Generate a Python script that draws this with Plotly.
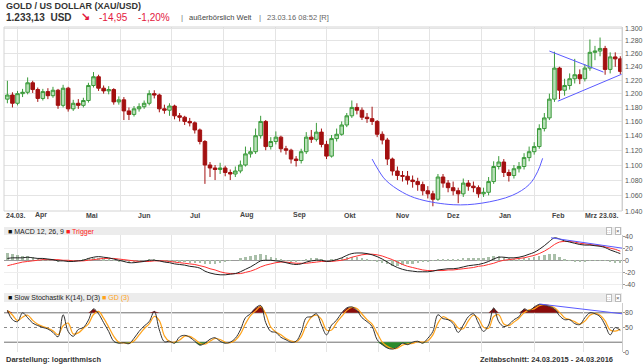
import math
import pandas as pd
import plotly.graph_objects as go

# ---------------- data ----------------
dates = pd.date_range(end="2016-03-23", periods=122, freq="3D")

close = [1198, 1186, 1200, 1202, 1216, 1206, 1193, 1203, 1197, 1205,
         1183, 1208, 1178, 1186, 1183, 1190, 1212, 1225, 1208, 1204,
         1206, 1188, 1191, 1175, 1170, 1178, 1181, 1186, 1200, 1198,
         1178, 1176, 1182, 1168, 1166, 1160, 1158, 1148, 1132, 1100,
         1096, 1094, 1096, 1090, 1088, 1092, 1100, 1115, 1118, 1140,
         1160, 1125, 1132, 1138, 1122, 1120, 1108, 1106, 1118, 1138,
         1135, 1145, 1128, 1112, 1136, 1142, 1155, 1168, 1180, 1176,
         1166, 1164, 1160, 1142, 1134, 1108, 1092, 1086, 1085, 1080,
         1078, 1074, 1066, 1062, 1055, 1084, 1076, 1070, 1066, 1062,
         1076, 1072, 1070, 1062, 1064, 1078, 1098, 1104, 1090, 1086,
         1095, 1098, 1110, 1118, 1125, 1150, 1165, 1192, 1238, 1205,
         1212, 1222, 1228, 1222, 1238, 1262, 1264, 1268, 1236, 1255,
         1252, 1233]
high = [1219, 1202, 1204, 1207, 1224, 1219, 1209, 1207, 1208, 1210,
        1207, 1213, 1210, 1191, 1192, 1194, 1216, 1232, 1228, 1212,
        1211, 1208, 1196, 1195, 1180, 1182, 1186, 1190, 1205, 1205,
        1200, 1184, 1186, 1184, 1172, 1168, 1165, 1160, 1150, 1134,
        1104, 1100, 1103, 1099, 1094, 1098, 1106, 1125, 1124, 1150,
        1168, 1162, 1138, 1146, 1140, 1126, 1122, 1112, 1122, 1145,
        1148, 1158, 1150, 1133, 1141, 1150, 1160, 1172, 1190, 1186,
        1180, 1172, 1181, 1162, 1146, 1137, 1110, 1098, 1092, 1092,
        1086, 1083, 1078, 1072, 1066, 1088, 1088, 1080, 1078, 1070,
        1082, 1080, 1078, 1073, 1070, 1084, 1105, 1112, 1108, 1094,
        1100, 1104, 1116, 1125, 1131, 1156, 1172, 1200, 1263, 1240,
        1222, 1230, 1252, 1236, 1244, 1282, 1272, 1285, 1272, 1262,
        1262, 1256]
low = [1186, 1180, 1183, 1195, 1199, 1201, 1188, 1190, 1192, 1194,
       1178, 1180, 1174, 1175, 1178, 1180, 1187, 1209, 1204, 1200,
       1199, 1184, 1184, 1162, 1162, 1167, 1174, 1178, 1183, 1193,
       1173, 1171, 1168, 1163, 1160, 1155, 1153, 1143, 1128, 1075,
       1084, 1080, 1088, 1085, 1080, 1084, 1089, 1098, 1110, 1115,
       1136, 1120, 1121, 1128, 1117, 1114, 1102, 1098, 1102, 1115,
       1130, 1132, 1124, 1108, 1110, 1132, 1140, 1152, 1165, 1170,
       1162, 1158, 1155, 1138, 1128, 1100, 1086, 1080, 1078, 1074,
       1070, 1066, 1060, 1056, 1046, 1053, 1070, 1064, 1060, 1050,
       1058, 1066, 1064, 1057, 1058, 1060, 1075, 1094, 1084, 1078,
       1082, 1090, 1094, 1105, 1114, 1122, 1146, 1162, 1188, 1192,
       1197, 1206, 1215, 1214, 1218, 1234, 1250, 1256, 1228, 1230,
       1240, 1229]
first_open = 1192
open_ = [first_open] + close[:-1]   # each candle opens where the previous closed

macd = [3, 4, 4, 4, 5, 4, 3, 3, 2, 1, -1, -1, -2, -2, -1, 0, 3, 5, 6, 5,
        4, 2, 0, -2, -4, -4, -3, -2, 0, 0, -1, -3, -4, -6, -7, -8, -10, -11, -13, -18,
        -21, -23, -24, -24, -23, -22, -19, -15, -11, -6, -1, 0, 0, -1, -2, -4, -6, -7, -6, -3,
        -1, 0, 0, -2, -1, 1, 4, 8, 11, 12, 12, 11, 9, 6, 2, -3, -8, -12, -15, -17,
        -18, -19, -19, -19, -18, -16, -15, -14, -14, -13, -11, -9, -8, -7, -5, -2, 2, 5, 5, 4,
        4, 5, 7, 10, 13, 18, 24, 31, 37, 35, 32, 30, 28, 26, 25, 25, 24, 23, 21, 17,
        14, 11]
signal = [-9, -7, -5, -3, -2, -1, 0, 1, 1, 1, 1, 0, 0, -1, -1, -1, 0, 1, 2, 3,
          3, 3, 2, 1, 0, -1, -2, -2, -2, -1, -1, -1, -2, -3, -4, -5, -6, -7, -9, -11,
          -14, -16, -19, -21, -22, -22, -22, -20, -18, -15, -11, -8, -6, -4, -3, -3, -4, -5, -5, -5,
          -4, -3, -2, -2, -2, -1, 0, 2, 5, 7, 9, 10, 10, 9, 7, 4, 1, -3, -7, -10,
          -12, -14, -16, -17, -17, -17, -17, -16, -16, -15, -14, -13, -12, -10, -9, -7, -5, -2, 0, 1,
          2, 3, 4, 6, 8, 11, 15, 20, 26, 30, 31, 31, 30, 28, 27, 26, 25, 24, 22, 20,
          18, 15]
stoch_k = [85, 66, 62, 80, 70, 59, 54, 50, 47, 40, 31, 76, 42, 32, 46, 50, 65, 88, 78, 60,
           42, 22, 18, 19, 17, 28, 42, 53, 62, 83, 45, 21, 22, 18, 31, 34, 30, 22, 14, 18,
           26, 29, 22, 18, 20, 28, 45, 70, 78, 90, 95, 60, 42, 40, 30, 25, 20, 22, 40, 70,
           72, 78, 55, 35, 55, 65, 80, 90, 92, 85, 70, 62, 52, 25, 15, 8, 6, 10, 18, 15,
           20, 22, 18, 28, 42, 76, 68, 66, 58, 40, 55, 72, 78, 59, 42, 55, 90, 62, 52, 56,
           66, 72, 88, 84, 92, 97, 96, 93, 88, 74, 66, 66, 58, 56, 70, 80, 78, 72, 55, 35,
           50, 44]

month_starts = pd.date_range("2015-04-01", "2016-03-01", freq="MS")
month_labels = ["Apr", "Mai", "Jun", "Jul", "Aug", "Sep", "Okt", "Nov", "Dez", "Jan", "Feb"]
month_label_dates = pd.date_range("2015-04-01", "2016-02-01", freq="MS") + pd.Timedelta(days=14)
start_label = "24.03."
end_label = "Mrz 23.03."
price_ticks = [1040, 1060, 1080, 1100, 1120, 1140, 1160, 1180, 1200, 1220, 1240, 1260, 1280, 1300]
price_tick_labels = ["1.040", "1.060", "1.080", "1.100", "1.120", "1.140", "1.160",
                     "1.180", "1.200", "1.220", "1.240", "1.260", "1.280", "1.300"]
macd_ticks = [-40, -20, 0, 20, 40]
macd_tick_labels = ["-40", "-20", "0", "20", "40"]
stoch_ticks = [0, 50, 80]
stoch_tick_labels = ["0", "50", "80"]

# drawn trend lines (date, value)
arc_dates = ["2015-10-28", "2015-10-31", "2015-11-05", "2015-11-15", "2015-11-25",
             "2015-12-15", "2016-01-01", "2016-01-19", "2016-01-29", "2016-02-03", "2016-02-06"]
arc_prices = [1108, 1096, 1080, 1064, 1055, 1048, 1050, 1060, 1074, 1091, 1109]
tri_upper_dates = ["2016-02-10", "2016-03-13"]
tri_upper_prices = [1264, 1232]
tri_lower_dates = ["2016-02-15", "2016-03-24"]
tri_lower_prices = [1189, 1229]
macd_trend_dates = ["2016-02-11", "2016-03-24"]
macd_trend_vals = [37, 20]
stoch_trend_dates = ["2016-02-04", "2016-03-24"]
stoch_trend_vals = [98, 78]

# ---------------- figure ----------------
W, H = 644, 364
T, B, L, R = 27, 12, 4, 22
PH = H - T - B
PW = W - L - R


def py(px):
    return (H - B - px) / PH


def pxx(px):
    return (px - L) / PW


FONT = "Liberation Sans, Arial, sans-serif"
BLUE = "#5a5aff"
GRID = "#e4e4e4"

fig = go.Figure()

fig.add_trace(go.Candlestick(
    x=dates, open=open_, high=high, low=low, close=close,
    increasing=dict(line=dict(color="#3a9a3a", width=1), fillcolor="#b8e0b8"),
    decreasing=dict(line=dict(color="#a31010", width=1), fillcolor="#a31010"),
    whiskerwidth=0, showlegend=False, hoverinfo="skip", xaxis="x", yaxis="y"))

fig.add_trace(go.Scatter(x=arc_dates, y=arc_prices, mode="lines",
                         line=dict(color=BLUE, width=1, shape="spline"),
                         showlegend=False, hoverinfo="skip", xaxis="x", yaxis="y"))
fig.add_trace(go.Scatter(x=tri_upper_dates, y=tri_upper_prices, mode="lines",
                         line=dict(color=BLUE, width=1), showlegend=False,
                         hoverinfo="skip", xaxis="x", yaxis="y"))
fig.add_trace(go.Scatter(x=tri_lower_dates, y=tri_lower_prices, mode="lines",
                         line=dict(color=BLUE, width=1), showlegend=False,
                         hoverinfo="skip", xaxis="x", yaxis="y"))

# MACD panel
hist = [m - s for m, s in zip(macd, signal)]
fig.add_trace(go.Bar(x=dates, y=hist, width=1.4 * 86400000,
                     marker=dict(color="#a9bfa9", line=dict(width=0)),
                     showlegend=False, hoverinfo="skip", xaxis="x2", yaxis="y2"))
fig.add_trace(go.Scatter(x=dates, y=signal, mode="lines",
                         line=dict(color="#ff3030", width=1, shape="spline"),
                         showlegend=False, hoverinfo="skip", xaxis="x2", yaxis="y2"))
fig.add_trace(go.Scatter(x=dates, y=macd, mode="lines",
                         line=dict(color="#222222", width=1, shape="spline"),
                         showlegend=False, hoverinfo="skip", xaxis="x2", yaxis="y2"))
fig.add_trace(go.Scatter(x=macd_trend_dates, y=macd_trend_vals, mode="lines",
                         line=dict(color=BLUE, width=1), showlegend=False,
                         hoverinfo="skip", xaxis="x2", yaxis="y2"))

# Stochastic panel
stoch_d = pd.Series(stoch_k).rolling(2, min_periods=1).mean().tolist()
upper = [max(v, 80) for v in stoch_k]
lower = [min(v, 20) for v in stoch_k]
fig.add_trace(go.Scatter(x=dates, y=[80] * len(dates), mode="lines", line=dict(width=0),
                         showlegend=False, hoverinfo="skip", xaxis="x3", yaxis="y3"))
fig.add_trace(go.Scatter(x=dates, y=upper, mode="lines", line=dict(width=0),
                         fill="tonexty", fillcolor="#8a0c0c",
                         showlegend=False, hoverinfo="skip", xaxis="x3", yaxis="y3"))
fig.add_trace(go.Scatter(x=dates, y=[20] * len(dates), mode="lines", line=dict(width=0),
                         showlegend=False, hoverinfo="skip", xaxis="x3", yaxis="y3"))
fig.add_trace(go.Scatter(x=dates, y=lower, mode="lines", line=dict(width=0),
                         fill="tonexty", fillcolor="#2a8a2a",
                         showlegend=False, hoverinfo="skip", xaxis="x3", yaxis="y3"))
fig.add_trace(go.Scatter(x=dates, y=stoch_d, mode="lines",
                         line=dict(color="#ffa31a", width=1.2, shape="spline"),
                         showlegend=False, hoverinfo="skip", xaxis="x3", yaxis="y3"))
fig.add_trace(go.Scatter(x=dates, y=stoch_k, mode="lines",
                         line=dict(color="#333333", width=1, shape="spline"),
                         showlegend=False, hoverinfo="skip", xaxis="x3", yaxis="y3"))
fig.add_trace(go.Scatter(x=stoch_trend_dates, y=stoch_trend_vals, mode="lines",
                         line=dict(color=BLUE, width=1), showlegend=False,
                         hoverinfo="skip", xaxis="x3", yaxis="y3"))

xcommon = dict(type="date", range=["2015-03-24", "2016-03-24"], tickvals=month_starts,
               showticklabels=False, showgrid=True, gridcolor=GRID, gridwidth=1,
               zeroline=False, showline=False, ticks="", fixedrange=True)

main_dom = [py(211), 1]
macd_dom = [py(289), py(235)]
stoch_dom = [0, py(303)]
macd_scale = (284.5 - 236) / 80.0
macd_range = [-40 - (289 - 284.5) / macd_scale, 40 + (236 - 235) / macd_scale]

fig.update_layout(
    width=W, height=H, margin=dict(l=L, r=R, t=T, b=B),
    paper_bgcolor="white", plot_bgcolor="white", separators=",.",
    showlegend=False, bargap=0, boxgap=0.3, boxgroupgap=0,
    xaxis=dict(xcommon, anchor="y", rangeslider=dict(visible=False)),
    xaxis2=dict(xcommon, anchor="y2", matches="x"),
    xaxis3=dict(xcommon, anchor="y3", matches="x"),
    yaxis=dict(type="log", domain=main_dom,
               range=[math.log10(1040), math.log10(1301.6)],
               side="right", tickvals=price_ticks, showticklabels=False,
               showgrid=True, gridcolor=GRID, zeroline=False,
               showline=True, linecolor="#cccccc", ticks="", fixedrange=True),
    yaxis2=dict(domain=macd_dom, range=macd_range, side="right", tickvals=macd_ticks,
                showticklabels=False, showgrid=True, gridcolor="#eeeeee",
                zeroline=True, zerolinecolor="#9a9a9a", zerolinewidth=1,
                showline=True, linecolor="#cccccc", ticks="outside", ticklen=2,
                tickcolor="#999999", fixedrange=True),
    yaxis3=dict(domain=stoch_dom, range=[0, 100], side="right", tickvals=stoch_ticks,
                showticklabels=False, showgrid=False, zeroline=False,
                showline=True, linecolor="#cccccc", ticks="outside", ticklen=2,
                tickcolor="#999999", fixedrange=True),
)

shapes = [
    dict(type="rect", xref="paper", yref="paper", x0=0, x1=1, y0=main_dom[0], y1=1,
         line=dict(color="#d4d4d4", width=1), layer="above"),
    dict(type="rect", xref="paper", yref="paper", x0=0, x1=1, y0=py(235), y1=py(227),
         fillcolor="#ececec", line=dict(width=0), layer="below"),
    dict(type="rect", xref="paper", yref="paper", x0=0, x1=1, y0=py(302), y1=py(293),
         fillcolor="#ececec", line=dict(width=0), layer="below"),
    dict(type="line", xref="paper", yref="y3", x0=0, x1=1, y0=80, y1=80,
         line=dict(color="#6e6e6e", width=1), layer="below"),
    dict(type="line", xref="paper", yref="y3", x0=0, x1=1, y0=20, y1=20,
         line=dict(color="#6e6e6e", width=1), layer="below"),
    dict(type="line", xref="paper", yref="y3", x0=0, x1=1, y0=50, y1=50,
         line=dict(color="#8a8a8a", width=1, dash="dot"), layer="below"),
]
fig.update_layout(shapes=shapes)

ann = []


def text(x, y, s, size=7, color="#333333", bold=False, xanchor="left", xref="paper",
         yref="paper"):
    ann.append(dict(x=x, y=y, xref=xref, yref=yref, text=("<b>%s</b>" % s) if bold else s,
                    showarrow=False, xanchor=xanchor, yanchor="middle",
                    font=dict(family=FONT, size=size, color=color)))


# header
text(pxx(4), py(6), "GOLD / US DOLLAR (XAU/USD)", size=9, color="#333333", bold=True)
text(pxx(4), py(17), "1.233,13&nbsp;&nbsp;USD", size=10, color="#333333", bold=True)
text(pxx(79), py(16), "↘", size=11, color="#e3173e", bold=True)
text(pxx(97), py(17), "-14,95", size=10, color="#e3173e")
text(pxx(136), py(17), "-1,20%", size=10, color="#e3173e")
text(pxx(179), py(17), "|", size=8, color="#777777")
text(pxx(187), py(17), "außerbörslich Welt", size=7.5, color="#444444")
text(pxx(257), py(17), "|", size=8, color="#777777")
text(pxx(265), py(17), "23.03.16 08:52 [R]", size=7.5, color="#666666")

# x labels
text(pxx(4), py(215), start_label, size=7, color="#444444", bold=True)
for d, lab in zip(month_label_dates, month_labels):
    text(d, py(215), lab, size=7, color="#444444", bold=True, xanchor="center", xref="x")
text(pxx(621), py(215), end_label, size=7, color="#444444", bold=True, xanchor="right")

# y tick labels (right side)
YL = pxx(623)
for v, lab in zip(price_ticks, price_tick_labels):
    text(YL, math.log10(v), lab, size=7, color="#555555", yref="y")
for v, lab in zip(macd_ticks, macd_tick_labels):
    text(YL, v, lab, size=7, color="#555555", yref="y2")
for v, lab in zip(stoch_ticks, stoch_tick_labels):
    text(YL, v, lab, size=7, color="#555555", yref="y3")

# panel headers
text(pxx(6), py(231.5), "<span style='color:#111'>■</span> MACD 12, 26, 9 "
     "<span style='color:#ff2020'>■ Trigger</span>", size=7, color="#222222")
text(pxx(6), py(298), "<span style='color:#111'>■</span> Slow Stochastik K(14), D(3) "
     "<span style='color:#ffa31a'>■ GD (3)</span>", size=7, color="#222222")
for yy in (231, 297.5):
    for xx, s in ((609, "::"), (618, "×")):
        ann.append(dict(x=pxx(xx), y=py(yy), xref="paper", yref="paper", text=s,
                        showarrow=False, xanchor="center", yanchor="middle",
                        font=dict(family=FONT, size=6, color="#555555"),
                        bgcolor="#ffffff", bordercolor="#bbbbbb", borderwidth=1, borderpad=0))

# footer
text(pxx(4), py(359), "Darstellung: logarithmisch", size=7.5, color="#333333", bold=True)
text(pxx(615), py(359), "Zeitabschnitt: 24.03.2015 - 24.03.2016", size=7.5,
     color="#333333", bold=True, xanchor="right")

fig.update_layout(annotations=ann)
fig.write_html("out.html", config={"displayModeBar": False},
               post_script="document.body.style.margin='0';document.body.style.padding='0';")
